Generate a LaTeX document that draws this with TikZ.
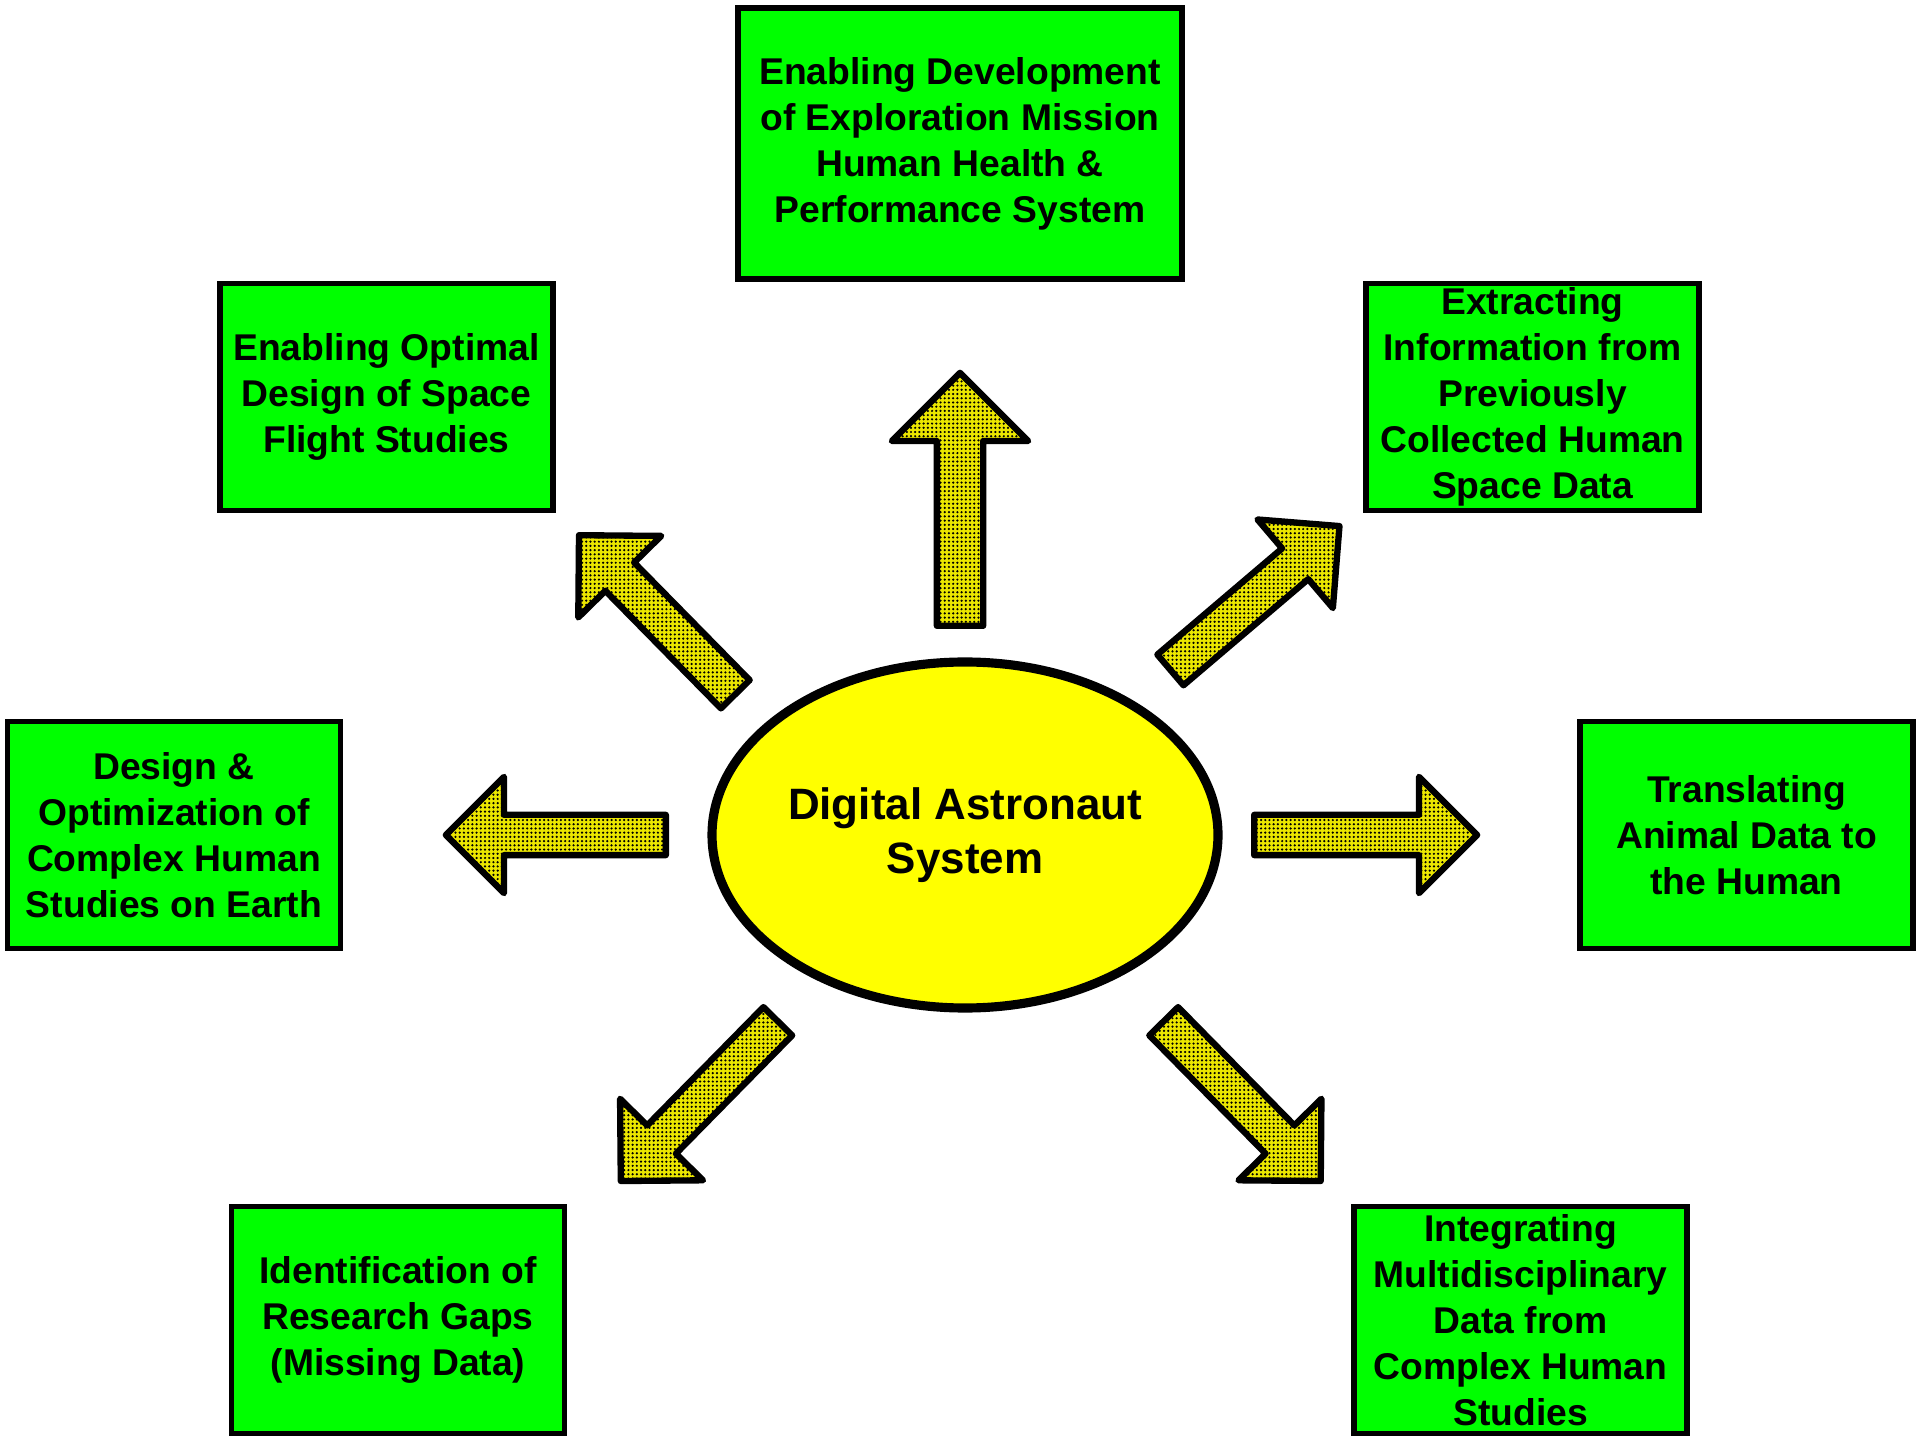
\documentclass[tikz,border=0pt]{standalone}
\usepackage{fontspec}
\setmainfont{Liberation Sans}
\usetikzlibrary{shapes.geometric, shapes.arrows, patterns.meta, positioning}

\definecolor{boxgreen}{RGB}{0,255,0}
\definecolor{hubyellow}{RGB}{255,255,0}
\definecolor{arrowyellow}{RGB}{235,230,0}

\begin{document}
\begin{tikzpicture}[
    goal/.style={rectangle, draw, line width=1.6pt, fill=boxgreen, minimum width=3.33cm, minimum height=2.27cm, inner sep=1pt, align=center, font=\bfseries\fontsize{10.6}{13.1}\selectfont},
    hub/.style={ellipse, draw, line width=2.6pt, fill=hubyellow, minimum width=5.06cm, minimum height=3.46cm, inner sep=0pt, align=center, font=\bfseries\fontsize{12.5}{15.2}\selectfont},
    burst/.style={single arrow, draw, line width=1.8pt, line join=round, preaction={fill=arrowyellow}, pattern={Dots[distance=1.2pt, radius=0.35pt]}, pattern color=black, inner xsep=0pt, inner ysep=0.17cm, single arrow head extend=0.38cm, minimum height=2.2cm, anchor=tail}
]
\useasboundingbox (0,0) rectangle (19.2,14.4);

% Central System
\node[hub] (das) at (9.65,6.05) {Digital Astronaut\\System};

% Outcome Boxes
\node[goal, minimum width=4.44cm, minimum height=2.71cm] (dev) at (9.60,12.965) {Enabling Development\\of Exploration Mission\\Human Health \&\\Performance System};
\node[goal] (optim) at (3.865,10.43) {Enabling Optimal\\Design of Space\\Flight Studies};
\node[goal] (extract) at (15.325,10.43) {Extracting\\Information from\\Previously\\Collected Human\\Space Data};
\node[goal] (design) at (1.74,6.05) {Design \&\\Optimization of\\Complex Human\\Studies on Earth};
\node[goal] (translate) at (17.465,6.05) {Translating\\Animal Data to\\the Human};
\node[goal] (gaps) at (3.98,1.20) {Identification of\\Research Gaps\\(Missing Data)};
\node[goal] (integ) at (15.205,1.20) {Integrating\\Multidisciplinary\\Data from\\Complex Human\\Studies};

% Block Arrows
\node[burst, rotate=90, inner ysep=0.20cm, single arrow head extend=0.45cm, minimum height=2.53cm] (aup) at (9.60,8.11) {};
\node[burst, rotate=134.5, minimum height=2.23cm] (aul) at (7.375,7.435) {};
\node[burst, rotate=40.4, minimum height=2.22cm] (aur) at (11.68,7.68) {};
\node[burst, rotate=180] (al) at (6.69,6.05) {};
\node[burst, minimum height=2.23cm] (ar) at (12.51,6.05) {};
\node[burst, rotate=225.5, minimum height=2.24cm] (adl) at (7.80,4.21) {};
\node[burst, rotate=-45.5, minimum height=2.24cm] (adr) at (11.615,4.21) {};

\end{tikzpicture}
\end{document}
